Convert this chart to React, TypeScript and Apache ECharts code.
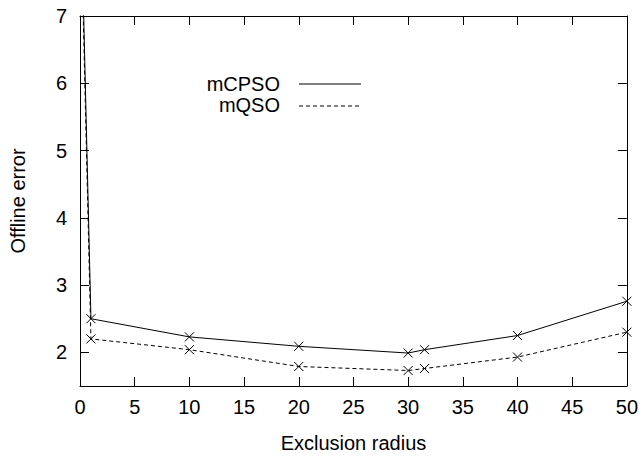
import React, { useEffect, useRef } from "react";
import * as echarts from "echarts";

const xValues = [0, 1, 10, 20, 30, 31.5, 40, 50];
const mCPSO = [9.3, 2.5, 2.23, 2.09, 1.99, 2.04, 2.25, 2.76];
const mQSO = [9.0, 2.2, 2.04, 1.79, 1.73, 1.76, 1.93, 2.3];
const yTicks = [2, 3, 4, 5, 6, 7];
const seriesNames = ["mCPSO", "mQSO"];

const FONT = "'Liberation Sans', Arial, Helvetica, sans-serif";
const CROSS = "path://M0,0L10,10M10,0L0,10";

export default function App() {
  const ref = useRef<HTMLDivElement>(null);
  useEffect(() => {
    if (!ref.current) return;
    const chart = echarts.init(ref.current, undefined, { renderer: "svg" });
    const tickCommon = { show: true, inside: true, length: 9, lineStyle: { color: "#000", width: 1 } };
    const lineCommon = { show: true, onZero: false, lineStyle: { color: "#000", width: 1 } };
    const mk = (vals: number[]) => xValues.map((x, i) => [x, vals[i]]);
    chart.setOption({
      animation: false,
      backgroundColor: "#fff",
      textStyle: { fontFamily: FONT, color: "#000" },
      grid: { left: 80, right: 14, top: 16, bottom: 65, containLabel: false },
      xAxis: [
        {
          type: "value",
          min: 0,
          max: 50,
          interval: 5,
          position: "bottom",
          axisLine: lineCommon,
          axisTick: tickCommon,
          splitLine: { show: false },
          axisLabel: { color: "#000", fontSize: 20, fontFamily: FONT, margin: 11 },
          name: "Exclusion radius",
          nameLocation: "middle",
          nameGap: 47,
          nameTextStyle: { color: "#000", fontSize: 20, fontFamily: FONT },
        },
        {
          type: "value",
          min: 0,
          max: 50,
          interval: 5,
          position: "top",
          axisLine: lineCommon,
          axisTick: tickCommon,
          splitLine: { show: false },
          axisLabel: { show: false },
        },
      ],
      yAxis: [
        {
          type: "value",
          min: 1.5,
          max: 7,
          position: "left",
          axisLine: lineCommon,
          axisTick: { ...tickCommon, customValues: yTicks },
          splitLine: { show: false },
          axisLabel: { color: "#000", fontSize: 20, fontFamily: FONT, margin: 13, customValues: yTicks },
          name: "Offline error",
          nameLocation: "middle",
          nameGap: 52,
          nameTextStyle: { color: "#000", fontSize: 20, fontFamily: FONT },
        },
        {
          type: "value",
          min: 1.5,
          max: 7,
          position: "right",
          axisLine: lineCommon,
          axisTick: { ...tickCommon, customValues: yTicks },
          splitLine: { show: false },
          axisLabel: { show: false, customValues: yTicks },
        },
      ],
      series: [
        {
          name: seriesNames[0],
          type: "line",
          data: mk(mCPSO),
          clip: true,
          symbol: CROSS,
          symbolSize: 9,
          showAllSymbol: true,
          itemStyle: { color: "#000", borderColor: "#000", borderWidth: 1 },
          lineStyle: { color: "#000", width: 1, type: "solid" },
        },
        {
          name: seriesNames[1],
          type: "line",
          data: mk(mQSO),
          clip: true,
          symbol: CROSS,
          symbolSize: 9,
          showAllSymbol: true,
          itemStyle: { color: "#000", borderColor: "#000", borderWidth: 1 },
          lineStyle: { color: "#000", width: 1, type: [4, 3] },
        },
      ],
      graphic: [
        {
          type: "text",
          x: 280,
          y: 84,
          style: { text: seriesNames[0], textAlign: "right", textVerticalAlign: "middle", fontSize: 20, lineHeight: 20, fontFamily: FONT, fill: "#000" },
        },
        {
          type: "line",
          shape: { x1: 299, y1: 84, x2: 361, y2: 84 },
          style: { stroke: "#000", lineWidth: 1 },
        },
        {
          type: "text",
          x: 280,
          y: 105,
          style: { text: seriesNames[1], textAlign: "right", textVerticalAlign: "middle", fontSize: 20, lineHeight: 20, fontFamily: FONT, fill: "#000" },
        },
        {
          type: "line",
          shape: { x1: 299, y1: 106, x2: 361, y2: 106 },
          style: { stroke: "#000", lineWidth: 1, lineDash: [4, 3] },
        },
      ],
    });
    return () => chart.dispose();
  }, []);
  return (
    <div
      ref={ref}
      style={{ position: "fixed", left: 0, top: 0, width: 641, height: 458, background: "#fff" }}
    />
  );
}
